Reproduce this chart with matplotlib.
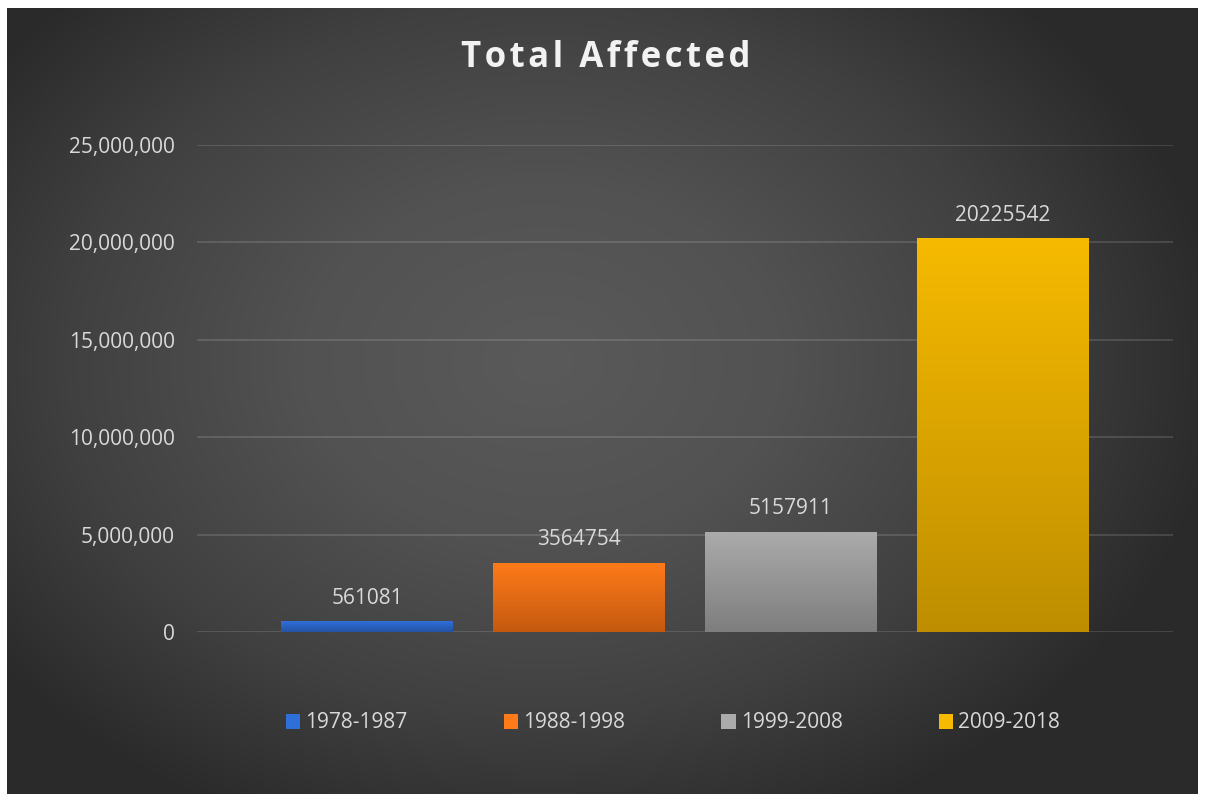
import numpy as np
import matplotlib.pyplot as plt
from matplotlib.colors import LinearSegmentedColormap
from matplotlib.patches import Rectangle

plt.rcParams['font.family'] = ['Open Sans', 'DejaVu Sans']

periods = ['1978-1987', '1988-1998', '1999-2008', '2009-2018']
affected = [561081, 3564754, 5157911, 20225542]
yticks = [0, 5000000, 10000000, 15000000, 20000000, 25000000]

# top / bottom colour of each bar's vertical gradient
top_colors = ['#2F6FD9', '#FF7B1A', '#ABABAB', '#F6BA00']
bottom_colors = ['#2552A5', '#C4590F', '#7E7E7E', '#BE8E00']

W, H = 1205, 794
fig = plt.figure(figsize=(W / 100, H / 100), dpi=100)
fig.patch.set_facecolor('white')

# dark radial background of the chart area
bg = fig.add_axes([7 / W, 0, 1191 / W, 1 - 8 / H])
bg.set_axis_off()
xx, yy = np.meshgrid(np.linspace(-1, 1, 600), np.linspace(-1, 1, 400))
r = np.sqrt(((xx + 0.1) / 1.15) ** 2 + ((yy + 0.1) / 1.3) ** 2)
r = np.clip(r, 0, 1)
bg_cmap = LinearSegmentedColormap.from_list(
    'bg', [(0, '#5a5a5a'), (0.35, '#525252'), (0.7, '#404040'), (1, '#2a2a2a')])
bg.imshow(r, cmap=bg_cmap, aspect='auto', extent=[0, 1, 0, 1], vmin=0, vmax=1)

ax = fig.add_axes([197 / W, 1 - 632 / H, 976 / W, 487 / H])
ax.set_facecolor('none')

x = np.arange(len(periods))
bars = ax.bar(x, affected, width=0.811, color=top_colors, zorder=2)

grad = np.linspace(1, 0, 256).reshape(-1, 1)
for bar, c_top, c_bot in zip(bars, top_colors, bottom_colors):
    cmap = LinearSegmentedColormap.from_list('g', [c_bot, c_top])
    x0, y0 = bar.get_x(), bar.get_y()
    im = ax.imshow(grad, cmap=cmap, aspect='auto', zorder=3,
                   extent=[x0, x0 + bar.get_width(), y0, y0 + bar.get_height()],
                   vmin=0, vmax=1)
    im.set_clip_path(bar)

for xi, v in zip(x, affected):
    ax.annotate(str(v), (xi, v), xytext=(0, 9), textcoords='offset points',
                ha='center', va='bottom', fontsize=15, color='#D9D9D9', zorder=4)

ax.set_xlim(1.5 - 2.302, 1.5 + 2.302)
ax.set_ylim(0, 25000000)
ax.set_yticks(yticks)
ax.set_yticklabels([f'{t:,}' for t in yticks])
ax.set_xticks([])
ax.tick_params(axis='y', length=0, pad=16, labelsize=15, labelcolor='#D9D9D9')
ax.grid(axis='y', color='white', alpha=0.13, linewidth=1.5, zorder=0)
for s in ax.spines.values():
    s.set_visible(False)

# spaced-out title (hair spaces between letters)
title = 'Total Affected'
spaced = '\u200a \u200a'.join('\u200a'.join(w) for w in title.split(' '))
fig.text(606 / W, 1 - 58 / H, spaced, ha='center', va='center',
         fontsize=25, fontweight='bold', color='#F2F2F2')

handles = [Rectangle((0, 0), 1, 1, facecolor=c) for c in top_colors]
fig.legend(handles, periods, loc='center', bbox_to_anchor=(673 / W, 1 - 723 / H), ncol=4,
           frameon=False, fontsize=15, labelcolor='#D9D9D9', handlelength=0.7, handleheight=0.7,
           handletextpad=0.25, columnspacing=4.6)

fig.savefig('out.png', dpi=100, facecolor='white')
